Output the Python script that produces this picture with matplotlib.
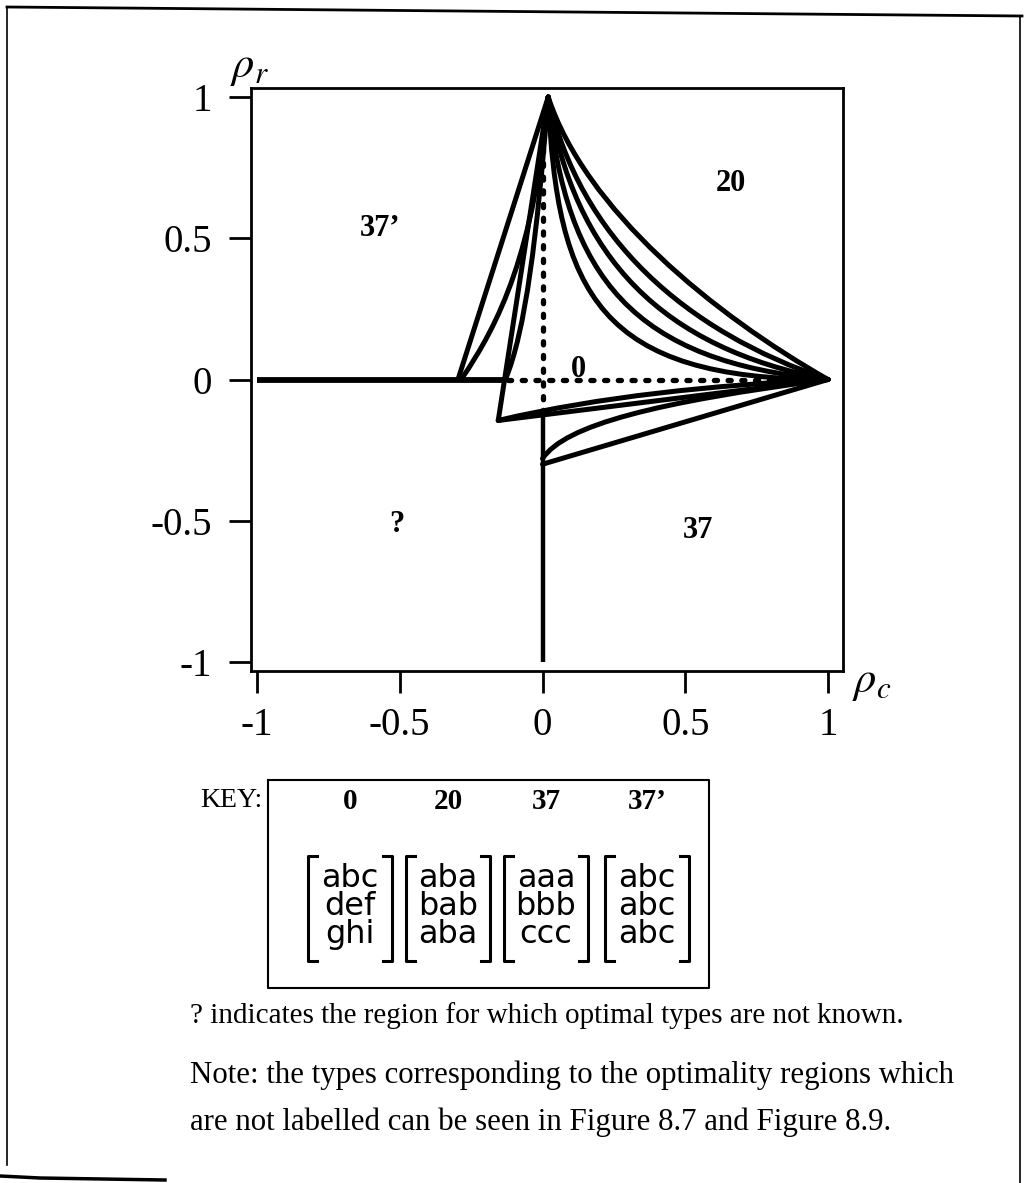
import numpy as np
import matplotlib
matplotlib.use("Agg")
import matplotlib.pyplot as plt
from matplotlib.path import Path
from matplotlib.patches import PathPatch

plt.rcParams['font.family'] = ['Liberation Serif', 'DejaVu Serif']
plt.rcParams['mathtext.fontset'] = 'stix'

# ---- data ----
tick_vals = [-1, -0.5, 0, 0.5, 1]
tick_labels = ['-1', '-0.5', '0', '0.5', '1']

top_apex = (0.02, 1.0)
right_apex = (1.0, 0.0)

# straight boundaries: (x list, y list)
neg_axis_x = [-1.0, -0.135]
neg_axis_y = [0.0, 0.0]
neg_vert_x = [0.0, 0.0]
neg_vert_y = [-1.0, -0.13]

# lines from top apex down to the left
left_lines = [
    [(-0.296, 0.0), top_apex],
    [(-0.155, -0.145), top_apex],
]
# curves as cubic bezier: (start, ctrl1, ctrl2, end)
left_curves = [
    [(-0.285, 0.0), (-0.15, 0.2), (-0.03, 0.45), top_apex],
    [(-0.13, 0.0), (-0.06, 0.17), (-0.02, 0.5), top_apex],
]
upper_curves = [
    [top_apex, (0.15, 0.60), (0.60, 0.23), right_apex],
    [top_apex, (0.13, 0.50), (0.50, 0.17), right_apex],
    [top_apex, (0.11, 0.43), (0.42, 0.11), right_apex],
    [top_apex, (0.08, 0.36), (0.32, 0.06), right_apex],
    [top_apex, (0.05, 0.30), (0.20, 0.00), right_apex],
]
lower_lines = [
    [(-0.155, -0.145), right_apex],
    [(0.0, -0.30), right_apex],
]
lower_curves = [
    [(-0.155, -0.145), (0.2, -0.06), (0.6, -0.02), right_apex],
    [(0.0, -0.28), (0.08, -0.16), (0.4, -0.08), right_apex],
]
dot_h_x = [-0.12, 0.9]
dot_h_y = [0.0, 0.0]
dot_v_x = [0.0, 0.0]
dot_v_y = [-0.12, 0.9]

region_labels = ['20', "37\u2019", '0', '?', '37']
region_x = [0.66, -0.57, 0.125, -0.51, 0.545]
region_y = [0.695, 0.536, 0.034, -0.515, -0.533]

key_types = ['0', '20', '37', "37\u2019"]
key_rows = [['abc', 'def', 'ghi'],
            ['aba', 'bab', 'aba'],
            ['aaa', 'bbb', 'ccc'],
            ['abc', 'abc', 'abc']]

caption1 = '? indicates the region for which optimal types are not known.'
caption2 = 'Note: the types corresponding to the optimality regions which'
caption3 = 'are not labelled can be seen in Figure 8.7 and Figure 8.9.'

W, H = 1026, 1183
fig = plt.figure(figsize=(W / 100, H / 100), dpi=100)

# main axes placed from pixel frame
L, R, T, B = 251, 843, 88, 671
ax = fig.add_axes([L / W, 1 - B / H, (R - L) / W, (B - T) / H])
ax.set_xlim(-1.021, 1.0525)
ax.set_ylim(-1.032, 1.032)
for s in ax.spines.values():
    s.set_linewidth(2.0)
ax.set_xticks(tick_vals)
ax.set_xticklabels(tick_labels)
ax.set_yticks(tick_vals)
ax.set_yticklabels(tick_labels)
ax.tick_params(direction='out', length=16, width=2, labelsize=28,
               top=False, right=False)
ax.tick_params(axis='x', pad=10)
ax.tick_params(axis='y', pad=12)

lw = 3.6
ax.plot(neg_axis_x, neg_axis_y, color='black', lw=4.2, solid_capstyle='butt')
ax.plot(neg_vert_x, neg_vert_y, color='black', lw=3.2, solid_capstyle='butt')
ax.plot(dot_h_x, dot_h_y, color='black', lw=3.8, linestyle=(0, (0.6, 2.0)),
        dash_capstyle='round')
ax.plot(dot_v_x, dot_v_y, color='black', lw=3.8, linestyle=(0, (0.6, 2.0)),
        dash_capstyle='round')

for seg in left_lines + lower_lines:
    xs, ys = zip(*seg)
    ax.plot(xs, ys, color='black', lw=lw, solid_capstyle='round')

codes = [Path.MOVETO, Path.CURVE4, Path.CURVE4, Path.CURVE4]
for cv in left_curves + upper_curves + lower_curves:
    ax.add_patch(PathPatch(Path(cv, codes), facecolor='none',
                           edgecolor='black', lw=lw, capstyle='round'))

for lab, x, y in zip(region_labels, region_x, region_y):
    ax.text(x, y, lab, fontsize=22, fontweight='bold', ha='center', va='center')

# axis names
fig.text(250 / W, 1 - 68 / H, r'$\rho_r$', fontsize=32, ha='center', va='center')
fig.text(872 / W, 1 - 683 / H, r'$\rho_c$', fontsize=32, ha='center', va='center')

# page overlay in pixel coordinates
page = fig.add_axes([0, 0, 1, 1], zorder=-1)
page.set_xlim(0, W)
page.set_ylim(H, 0)
page.axis('off')
page.plot([7, 1022], [7, 16], color='black', lw=2)
page.plot([7, 7], [7, 1165], color='black', lw=1.2)
page.plot([1020, 1020], [16, H], color='black', lw=1.2)
page.plot([0, 40, 165], [1176, 1178, 1180], color='black', lw=2.5)

# key box
page.plot([268, 709, 709, 268, 268], [780, 780, 988, 988, 780], color='black', lw=1.5)
page.text(262, 800, 'KEY:', fontsize=20, ha='right', va='center')
centers = [350, 448, 546, 647]
for cx, t, rows in zip(centers, key_types, key_rows):
    page.text(cx, 801, t, fontsize=21, fontweight='bold', ha='center', va='center')
    for j, r in enumerate(rows):
        page.text(cx, 878 + 28 * j, r, fontsize=23, family='DejaVu Sans',
                  ha='center', va='center')
    for side in (-1, 1):
        bx = cx + side * 42
        page.plot([bx - side * 9, bx, bx, bx - side * 9], [856, 856, 961, 961],
                  color='black', lw=2.2)

page.text(190, 1016, caption1, fontsize=21, ha='left', va='center')
page.text(190, 1075, caption2, fontsize=22.2, ha='left', va='center')
page.text(190, 1122, caption3, fontsize=22.2, ha='left', va='center')

fig.savefig('out.png', dpi=100)
